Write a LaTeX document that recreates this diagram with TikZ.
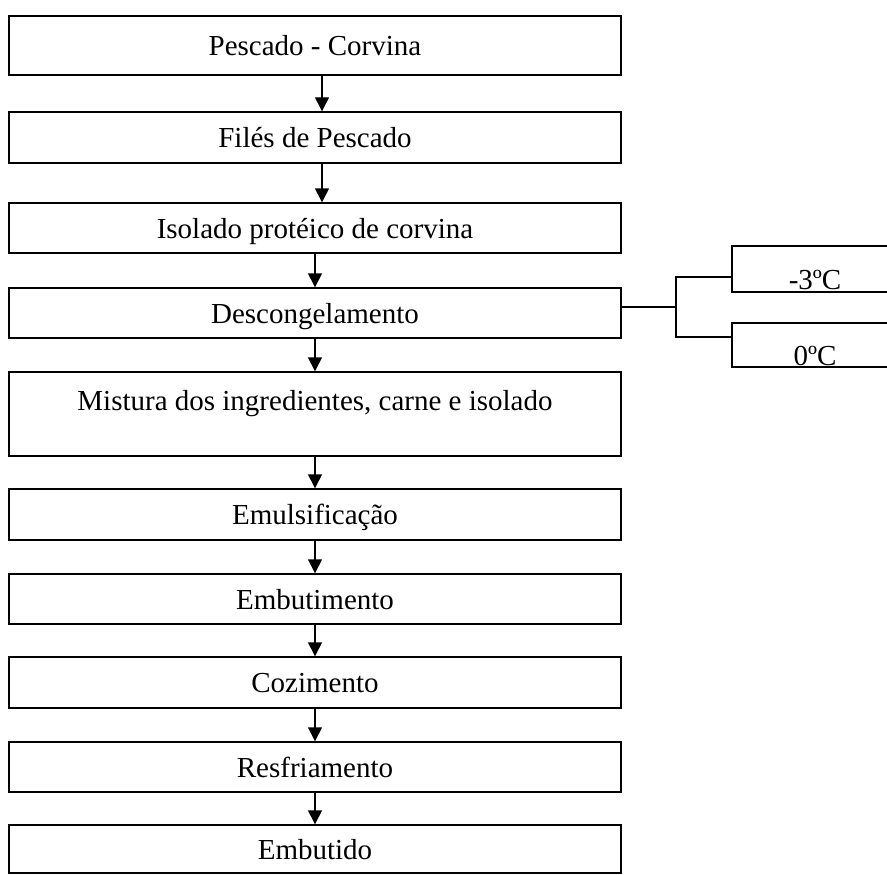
\documentclass[tikz,border=0pt]{standalone}
\usepackage{fontspec}
\setmainfont{Liberation Serif}
\usepackage{tikz}
\usetikzlibrary{arrows.meta}

\begin{document}
\begin{tikzpicture}[x=1pt, y=-1pt,
                        etapa/.style={draw=black, line width=1.4pt, minimum width=612pt, inner sep=0pt,
                                      text height=26pt, text depth=6pt, font=\fontsize{29}{34}\selectfont},
                        temp/.style={draw=black, line width=1.4pt, minimum width=166pt, minimum height=46pt, inner sep=0pt,
                                      text height=40pt, text depth=0pt, font=\fontsize{29}{34}\selectfont},
                        seta/.style={line width=1.4pt, -{Triangle[width=14pt,length=14pt]}},
                        liga/.style={line width=1.4pt}]
                        \useasboundingbox (0,0) rectangle (887,875);
                        \node[etapa, minimum height=59pt] (pescado) at (315,45.5) {Pescado - Corvina};
                        \node[etapa, minimum height=51pt] (files) at (315,137.5) {Filés de Pescado};
                        \node[etapa, minimum height=50pt] (isolado) at (315,228) {Isolado protéico de corvina};
                        \node[etapa, minimum height=50pt] (descong) at (315,313) {Descongelamento};
                        \node[etapa, minimum height=84pt, text height=23pt, text depth=31pt] (mistura) at (315,414) {Mistura dos ingredientes, carne e isolado};
                        \node[etapa, minimum height=51pt] (emulsif) at (315,514.5) {Emulsificação};
                        \node[etapa, minimum height=50pt] (embutim) at (315,599) {Embutimento};
                        \node[etapa, minimum height=51pt] (cozim) at (315,682.5) {Cozimento};
                        \node[etapa, minimum height=50pt] (resfri) at (315,767) {Resfriamento};
                        \node[etapa, minimum height=48pt] (embutido) at (315,849) {Embutido};
                        \node[temp] (menos) at (815,269) {-3ºC};
                        \node[temp, minimum height=44pt] (zero) at (815,345) {0ºC};
                        \coordinate (fork) at (676,307);
                        \draw[seta] ([xshift=7pt]pescado.south) -- ([xshift=7pt]files.north);
                        \draw[seta] ([xshift=7pt]files.south) -- ([xshift=7pt]isolado.north);
                        \draw[seta] (isolado) -- (descong);
                        \draw[seta] (descong) -- (mistura);
                        \draw[seta] (mistura) -- (emulsif);
                        \draw[seta] (emulsif) -- (embutim);
                        \draw[seta] (embutim) -- (cozim);
                        \draw[seta] (cozim) -- (resfri);
                        \draw[seta] (resfri) -- (embutido);
                        \draw[liga] (descong.east |- fork) -- (fork);
                        \draw[liga] ([yshift=-8pt]menos.west) -| (fork) |- ([yshift=8pt]zero.west);
                    \end{tikzpicture}
\end{document}
